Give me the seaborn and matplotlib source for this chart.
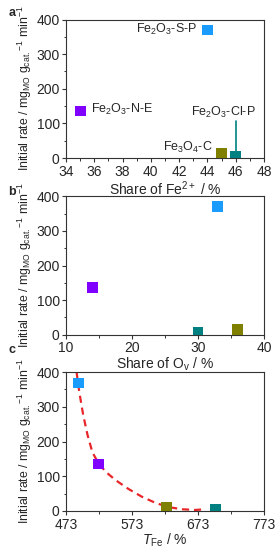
import matplotlib
matplotlib.use("Agg")
import matplotlib.pyplot as plt
from matplotlib.ticker import MultipleLocator, FixedLocator
import seaborn as sns
import pandas as pd

# ---- data ----
samples = ["Fe2O3-S-P", "Fe2O3-N-E", "Fe3O4-C", "Fe2O3-Cl-P"]
rate = [370, 136, 14, 5]
fe2_share = [44.0, 35.0, 45.0, 46.0]
ov_share = [33.0, 14.0, 36.0, 30.0]
t_fe = [492, 522, 625, 699]
rate_c = [368, 135, 11, 5]
colors = ["#1a9cff", "#8000ff", "#808000", "#008080"]

# fitted curve in panel c
curve_x = [489, 493, 499, 505.6, 513, 522, 533, 548, 568, 588, 609, 629, 649, 669, 684]
curve_y = [400, 344, 277, 219, 169, 138, 113, 89, 63, 41, 23, 11, 5, 3, 5]

tfe_ticks = [473, 573, 673, 773]
tfe_minor = [523, 623, 723]

sns.set_theme(style="ticks")
plt.rcParams["font.family"] = ["Liberation Sans", "DejaVu Sans"]
plt.rcParams["mathtext.fontset"] = "custom"
plt.rcParams["mathtext.rm"] = "Liberation Sans"
plt.rcParams["mathtext.it"] = "Liberation Sans:italic"

FT = 10      # tick labels / x labels
FA = 9       # annotations
FY = 8.8     # y label
fig = plt.figure(figsize=(2.79, 5.50), dpi=100)
left, width = 66 / 279, 198 / 279
axa = fig.add_axes([left, 1 - 158 / 550, width, 138.5 / 550])
axb = fig.add_axes([left, 1 - 334.5 / 550, width, 138 / 550])
axc = fig.add_axes([left, 1 - 511 / 550, width, 139 / 550])

pal = dict(zip(samples, colors))
dfa = pd.DataFrame({"sample": samples, "x": fe2_share, "y": rate})
dfb = pd.DataFrame({"sample": samples, "x": ov_share, "y": rate})
dfc = pd.DataFrame({"sample": samples, "x": t_fe, "y": rate_c})
dfcurve = pd.DataFrame({"x": curve_x, "y": curve_y})

ylab = r"Initial rate / mg$_{\mathrm{MO}}$ g$_{\mathrm{cat.}}$$^{-1}$ min$^{-1}$"

# panel a: leader line for Cl-P
axa.plot([fe2_share[3], fe2_share[3]], [rate[3], 108], color=colors[3], lw=1.2, zorder=1)
for ax, df in [(axa, dfa), (axb, dfb)]:
    sns.scatterplot(data=df, x="x", y="y", hue="sample", palette=pal, marker="s",
                    s=60, linewidth=0, legend=False, ax=ax, zorder=3)

sns.lineplot(data=dfcurve, x="x", y="y", ax=axc, color="#e8262a", lw=1.6,
             dashes=False, zorder=2, sort=False)
axc.lines[-1].set_dashes([3.2, 2.2])
sns.scatterplot(data=dfc, x="x", y="y", hue="sample", palette=pal, marker="s",
                s=60, linewidth=0, legend=False, ax=axc, zorder=3)

# annotations panel a
axa.text(43.3, 370, r"Fe$_2$O$_3$-S-P", ha="right", va="center", fontsize=FA)
axa.text(35.75, 139, r"Fe$_2$O$_3$-N-E", ha="left", va="center", fontsize=FA)
axa.text(44.4, 30, r"Fe$_3$O$_4$-C", ha="right", va="center", fontsize=FA)
axa.text(45.1, 131, r"Fe$_2$O$_3$-Cl-P", ha="center", va="center", fontsize=FA)

cfg = [
    (axa, (34, 48), MultipleLocator(2), MultipleLocator(1), r"Share of Fe$^{2+}$ / %"),
    (axb, (10, 40), MultipleLocator(10), MultipleLocator(5), r"Share of O$_{\mathrm{v}}$ / %"),
    (axc, (473, 773), FixedLocator(tfe_ticks), FixedLocator(tfe_minor), r"$T_{\mathrm{Fe}}$ / %"),
]
for ax, xl, maj, mnr, xlabel in cfg:
    ax.set_xlim(*xl)
    ax.set_ylim(0, 400)
    ax.xaxis.set_major_locator(maj)
    ax.xaxis.set_minor_locator(mnr)
    ax.yaxis.set_major_locator(MultipleLocator(100))
    ax.yaxis.set_minor_locator(MultipleLocator(50))
    ax.tick_params(which="major", direction="out", length=3, width=0.8,
                   labelsize=FT, pad=1.5, color="#333333")
    ax.tick_params(which="minor", direction="out", length=1.8, width=0.7, color="#333333")
    ax.tick_params(axis="x", which="major", pad=2)
    for sp in ax.spines.values():
        sp.set_visible(True)
        sp.set_linewidth(0.8)
        sp.set_color("#333333")
    ax.set_xlabel(xlabel, fontsize=FT, labelpad=0)
    ax.set_ylabel(ylab, fontsize=FY)
    ax.yaxis.set_label_coords(-0.16, 0.5)
    ax.set_facecolor("white")

fig.text(12 / 279, 1 - 13 / 550, "a", fontsize=FA, fontweight="bold", ha="center", va="center")
fig.text(12 / 279, 1 - 192 / 550, "b", fontsize=FA, fontweight="bold", ha="center", va="center")
fig.text(12 / 279, 1 - 350 / 550, "c", fontsize=FA, fontweight="bold", ha="center", va="center")

fig.savefig("out.png", dpi=100, facecolor="white")
